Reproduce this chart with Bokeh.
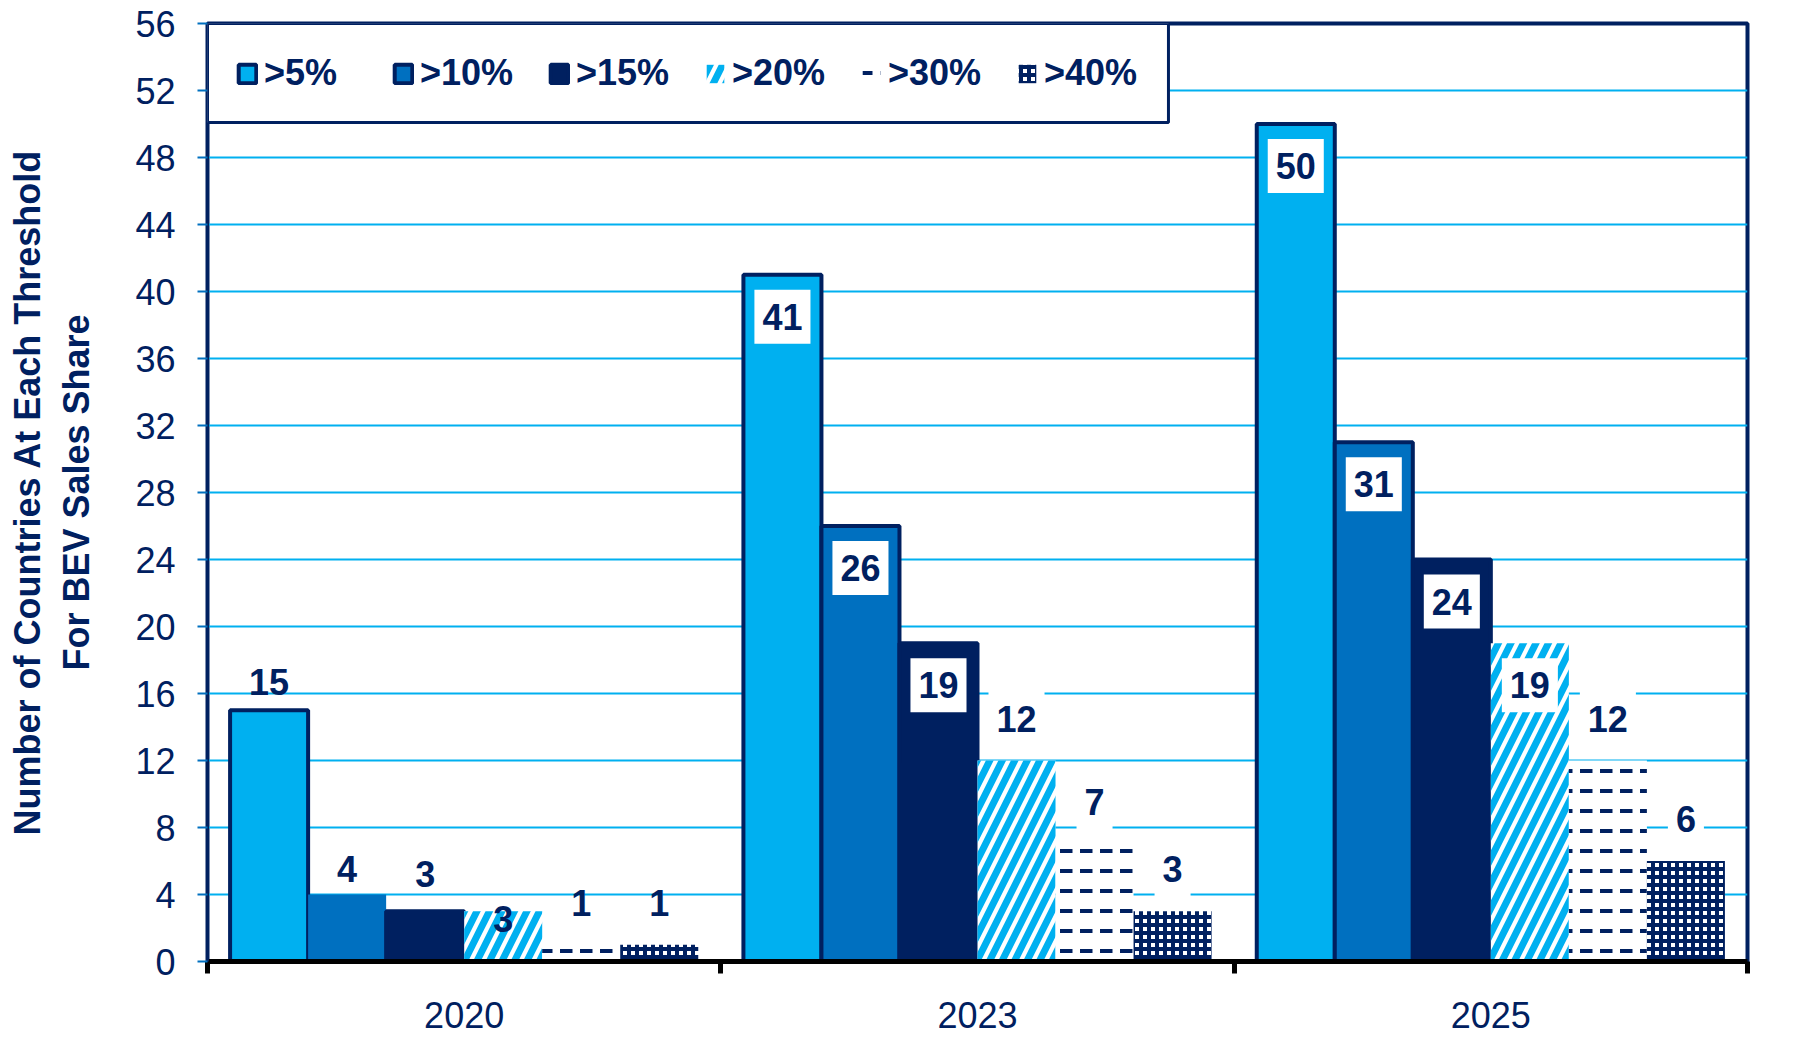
from bokeh.plotting import figure
from bokeh.models import (Range1d, FixedTicker, ColumnDataSource, Legend, LegendItem,
                          BoxAnnotation)
from bokeh.core.properties import value
from bokeh.embed import file_html
from bokeh.resources import INLINE

# ---- data ----
years = ["2020", "2023", "2025"]
thresholds = [">5%", ">10%", ">15%", ">20%", ">30%", ">40%"]
gt5 = [15, 41, 50]
gt10 = [4, 26, 31]
gt15 = [3, 19, 24]
gt20 = [3, 12, 19]
gt30 = [1, 7, 12]
gt40 = [1, 3, 6]
series = [gt5, gt10, gt15, gt20, gt30, gt40]
y_ticks = list(range(0, 57, 4))
y_title = "Number of Countries At Each Threshold\nFor BEV Sales Share"

# ---- styles ----
NAVY = "#002060"
MID = "#0070C0"
LIGHT = "#00B0F0"
FONT = "Liberation Sans"

styles = [
    dict(fill_color=LIGHT, line_color=NAVY, line_width=4),
    dict(fill_color=MID, line_color=NAVY, line_width=4),
    dict(fill_color=NAVY, line_color=NAVY, line_width=4),
    dict(fill_color="white", line_color=None, hatch_pattern="/", hatch_color=LIGHT,
         hatch_weight=7, hatch_scale=25),
    dict(fill_color="white", line_color=None, hatch_pattern='"', hatch_color=NAVY,
         hatch_weight=4, hatch_scale=20),
    dict(fill_color="white", line_color=None, hatch_pattern="+", hatch_color=NAVY,
         hatch_weight=4, hatch_scale=8),
]
bar_w = 0.152
label_gap = 42                       # px between bar top and label centre
label_gap_2020 = [28, 26, 37, -8, 42, 42]   # hand-placed labels in the first group

p = figure(width=1788, height=1046, output_backend="svg", toolbar_location=None,
           x_range=Range1d(0, len(years)), y_range=Range1d(0, 56),
           min_border_left=207, min_border_right=41, min_border_top=23,
           min_border_bottom=85)
p.background_fill_color = "white"
p.border_fill_color = "white"
p.outline_line_color = NAVY
p.outline_line_width = 4

items = []
boxed = dict(x=[], y=[], t=[], off=[])
plain = dict(x=[], y=[], t=[], off=[])
for j, (vals, st, name) in enumerate(zip(series, styles, thresholds)):
    xs = [i + 0.5 + (j - 2.5) * bar_w for i in range(len(years))]
    la = [1.0] * len(vals)
    if j == 1:
        la[0] = 0.0  # 2020 >10% bar drawn without outline
    src = ColumnDataSource(dict(x=xs, top=vals, la=la))
    r = p.vbar(x="x", top="top", bottom=0, width=bar_w, source=src,
               line_alpha="la", **st)
    items.append(LegendItem(label=name, renderers=[r], index=len(vals) - 1))
    for i, (x, v) in enumerate(zip(xs, vals)):
        if i == 0:
            d = plain
            off = -label_gap_2020[j]
        else:
            d = boxed
            off = label_gap if v > 15 else -label_gap
        d["x"].append(x)
        d["y"].append(v)
        d["t"].append(str(v))
        d["off"].append(off)

text_kw = dict(text_align="center", text_baseline="middle",
               text_font=value(FONT), text_font_style="bold", text_font_size="36px",
               text_color=NAVY)
p.text(x="x", y="y", text="t", y_offset="off", source=ColumnDataSource(plain), **text_kw)
p.text(x="x", y="y", text="t", y_offset="off", source=ColumnDataSource(boxed),
       background_fill_color="white", padding=(8, 14), **text_kw)

# legend frame + legend
legend_box = BoxAnnotation(left=0, right=1.872, bottom=50.09, top=56,
                           fill_color="white", fill_alpha=1.0,
                           line_color=NAVY, line_alpha=1.0, line_width=3)
p.add_layout(legend_box)
legend = Legend(items=items, orientation="horizontal", location="top_left",
                margin=29, padding=5, spacing=6, glyph_width=22, glyph_height=23,
                label_standoff=6, label_width=122,
                label_text_font=FONT, label_text_font_style="bold",
                label_text_font_size="36px", label_text_color=NAVY,
                label_text_baseline="middle",
                border_line_color=None, background_fill_alpha=0.0)
p.add_layout(legend)

# x axis
xa = p.xaxis[0]
xa.ticker = FixedTicker(ticks=[i + 0.5 for i in range(len(years))],
                        minor_ticks=list(range(len(years) + 1)))
xa.major_label_overrides = {i + 0.5: y for i, y in enumerate(years)}
xa.major_tick_line_color = None
xa.major_tick_out = 0
xa.major_tick_in = 0
xa.minor_tick_line_color = "black"
xa.minor_tick_line_width = 5
xa.minor_tick_out = 12
xa.minor_tick_in = 0
xa.axis_line_color = "black"
xa.axis_line_width = 5
xa.major_label_text_font = FONT
xa.major_label_text_font_size = "36px"
xa.major_label_text_color = NAVY
xa.major_label_standoff = 28

# y axis
ya = p.yaxis[0]
ya.ticker = FixedTicker(ticks=y_ticks)
ya.minor_tick_line_color = None
ya.major_tick_line_color = MID
ya.major_tick_line_width = 2
ya.major_tick_out = 10
ya.major_tick_in = 0
ya.axis_line_color = NAVY
ya.axis_line_width = 3
ya.major_label_text_font = FONT
ya.major_label_text_font_size = "36px"
ya.major_label_text_color = NAVY
ya.major_label_standoff = 22
ya.axis_label = y_title
ya.axis_label_text_font = FONT
ya.axis_label_text_font_style = "bold"
ya.axis_label_text_font_size = "36px"
ya.axis_label_text_color = NAVY
ya.axis_label_standoff = 35

p.xgrid.visible = False
p.ygrid.ticker = FixedTicker(ticks=y_ticks)
p.ygrid.grid_line_color = LIGHT
p.ygrid.grid_line_width = 2

open("out.html", "w").write(file_html(p, INLINE))
